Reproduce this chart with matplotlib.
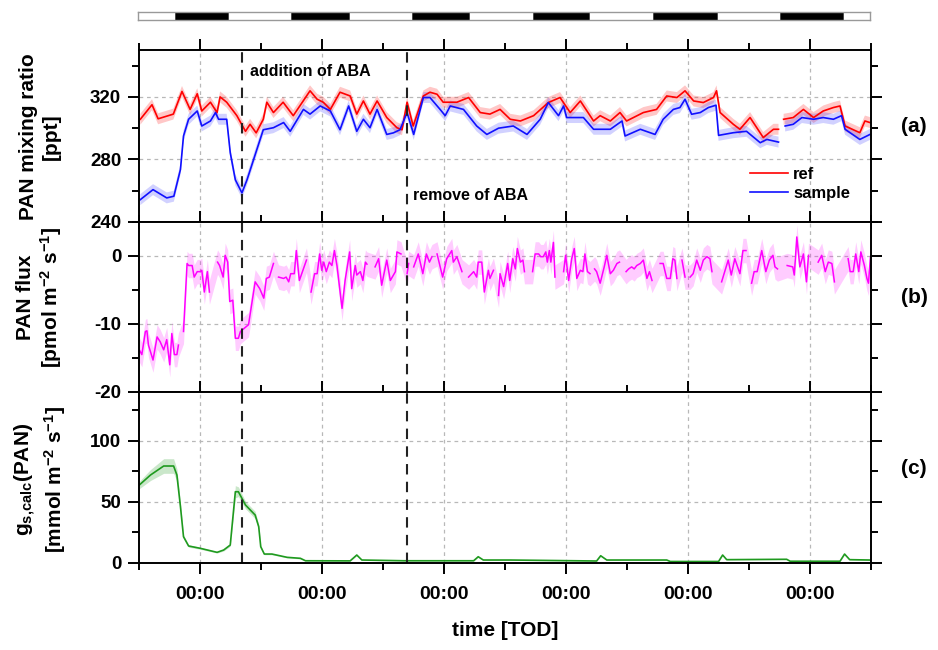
import numpy as np
import matplotlib
matplotlib.use("Agg")
import matplotlib.pyplot as plt
from matplotlib.ticker import MultipleLocator, FuncFormatter

plt.rcParams['font.family'] = ['Liberation Sans', 'DejaVu Sans']
plt.rcParams['font.weight'] = 'bold'
plt.rcParams['axes.unicode_minus'] = False
plt.rcParams['mathtext.default'] = 'regular'

nan = np.nan

# time in hours relative to the first midnight
# (a) PAN mixing ratio, ppt
ref_pts = [(-11.8, 305.7), (-9.5, 315), (-8.3, 306), (-5.3, 309), (-3.6, 323.5), (-2.0, 312),
           (-0.6, 322), (0.3, 311), (2.0, 316.6), (3.3, 310), (3.9, 320), (5.2, 316.6), (7.2, 308),
           (8.9, 298), (9.8, 302.5), (11.0, 297), (12.4, 305.7), (13.1, 316.6), (14.4, 310),
           (16.3, 316.6), (18.3, 308), (21.6, 323.9), (23.0, 318.5), (24.2, 316.6), (25.6, 312),
           (27.5, 323), (29.5, 320.6), (30.8, 309), (32.1, 317.4), (33.4, 309), (34.8, 317.4),
           (36.7, 306.8), (38.7, 300.3), (39.7, 299), (40.7, 316.6), (41.9, 301.4), (43.9, 320.6),
           (45.2, 323), (46.6, 321.7), (47.8, 316.6), (50.5, 316.6), (52.8, 319.6), (55.1, 310),
           (57.0, 309), (59.0, 312), (61.0, 305.7), (63.0, 304.6), (65.6, 308), (68.5, 316.4),
           (70.8, 319.6), (72.8, 310), (74.8, 317.4), (77.4, 304.6), (78.7, 308), (80.7, 304.6),
           (82.6, 310), (83.9, 304.6), (87.2, 310), (89.8, 312), (91.8, 320.6), (93.8, 319.6),
           (95.4, 323.9), (97.1, 317.4), (99.0, 316.4), (101.0, 319.6), (101.6, 323.9), (102.3, 310),
           (104.9, 302.5), (106.2, 299.3), (108.2, 306.8), (110.8, 294), (112.8, 299.3),
           (113.8, 299.3), (114.3, nan), (114.8, 305.7), (116.7, 306.8), (118.7, 312), (120.7, 306.8),
           (122.6, 311), (124.6, 313.2), (125.9, 314.2), (126.9, 301.4), (129.8, 297.1),
           (130.8, 304.6), (131.8, 303.6)]

sample_pts = [(-11.8, 254.3), (-9.3, 260.7), (-6.6, 255.4), (-5.2, 256.5), (-3.9, 273.6), (-3.3, 295),
              (-2.3, 305.7), (-0.6, 311), (0.3, 301.4), (2.0, 304.6), (3.0, 310), (3.6, 305.7),
              (5.2, 305.7), (5.9, 284.3), (6.9, 267), (8.2, 258.6), (9.2, 267), (10.5, 280),
              (12.4, 299), (14.4, 300.3), (16.4, 303.6), (17.7, 298), (20.3, 312), (21.6, 309),
              (23.6, 314.2), (25.6, 311), (27.5, 299), (29.2, 314.2), (30.8, 298), (32.1, 305.7),
              (33.4, 300.3), (34.8, 312), (36.7, 296), (38.0, 297), (39.3, 299), (40.7, 310),
              (42.0, 296), (43.9, 319.6), (45.2, 319.6), (47.2, 312), (48.2, 308), (49.2, 314.2),
              (51.8, 312), (54.4, 301.4), (56.4, 296), (58.7, 300.0), (61.6, 301.4), (64.3, 296),
              (66.9, 305.7), (68.5, 316.4), (70.5, 308), (71.5, 314.2), (72.1, 306.8), (75.4, 306.8),
              (77.4, 299.3), (80.7, 299.3), (83.0, 304.6), (83.6, 295), (86.6, 299.3), (89.5, 296),
              (91.1, 305.7), (93.1, 312), (94.4, 313.2), (95.4, 318.5), (96.7, 308.9), (98.4, 310),
              (100.0, 313.2), (101.5, 314.7), (102.0, 295.4), (104.9, 297.1), (107.5, 298),
              (110.2, 290.7), (111.5, 292.8), (113.8, 291.1), (114.4, nan), (115.1, 301.4),
              (116.7, 302.5), (118.4, 306.8), (120.7, 305.7), (122.6, 306.8), (124.6, 305.7),
              (126.2, 308), (126.9, 299.3), (129.8, 292.8), (131.8, 296)]
mix_err = 3.5

# (b) PAN flux, pmol m-2 s-1 (nan = gap)
flux_pts = [(-12.0, -13.8), (-11.5, -14.5), (-10.8, -11.1), (-10.5, -11.0), (-10.2, -13.1), (-9.3, -15.3),
            (-8.5, -11.9), (-7.9, -12.6), (-7.2, -13.8), (-6.6, -12.3), (-6.0, -16.0), (-5.6, -11.4),
            (-5.1, -14.5), (-4.6, -14.5), (-4.3, -13.1), (-3.8, nan),
            (-3.3, -11.1), (-2.6, -1.1), (-2.3, -1.4), (-1.6, -1.4), (-1.2, -3.1), (-0.6, -2.3),
            (0.0, -2.3), (0.3, -2.1), (0.8, -5.3), (1.4, -2.3), (1.8, -5.3), (2.6, nan),
            (3.4, -0.9), (3.8, -1.4), (4.5, -3.1), (4.9, 0.1), (5.4, -0.9), (5.8, -6.7), (6.4, -6.5),
            (6.9, -12.1), (7.5, -12.1), (7.9, -11.1), (9.5, -10.1), (10.8, -3.8), (11.7, -4.8),
            (12.5, -6.2), (13.0, -3.3), (13.6, -3.1), (14.4, -1.1), (14.9, nan),
            (15.4, -3.1), (16.4, -3.3), (16.9, -3.1), (17.4, -3.8), (17.8, -2.6), (18.5, -2.6),
            (18.9, 0.8), (19.5, -3.6), (20.9, -0.6), (21.4, nan),
            (21.8, -5.3), (22.5, -2.6), (23.0, -2.6), (23.5, 0.3), (23.9, -2.1), (24.3, -0.9),
            (24.8, -2.3), (25.4, -0.9), (25.9, -1.4), (26.4, 0.8), (26.9, -1.4), (27.9, -7.7),
            (28.5, -3.6), (29.4, 0.6), (29.8, -4.8), (30.5, -1.4), (30.8, -2.8), (31.5, -2.3),
            (32.0, -3.6), (32.5, -0.9), (32.8, -1.2), (33.6, nan),
            (34.4, -1.6), (35.1, -0.4), (35.7, -4.3), (36.7, -0.6), (37.4, -3.6), (38.4, -2.3),
            (38.7, 0.6), (39.5, 0.3), (40.1, nan), (40.7, -2.6), (41.0, -1.1), (41.5, nan),
            (42.0, -1.6), (42.9, 0.3), (43.8, -2.6), (44.5, 0.3), (45.1, -0.9), (45.6, -0.1), (46.1, nan),
            (46.6, 0.3), (47.7, -3.1), (48.5, -0.4), (49.5, 0.8), (49.8, -0.9), (50.5, -0.1),
            (51.5, -2.3), (52.2, nan),
            (52.8, -3.1), (53.8, -2.3), (54.4, -3.1), (54.7, -0.9), (55.4, -0.9), (55.9, -5.3),
            (56.7, -2.1), (57.0, -3.3), (57.7, -2.1), (58.2, nan),
            (58.7, -5.8), (59.0, -2.6), (59.7, -4.5), (60.5, -1.1), (60.9, -3.6), (61.5, -0.4),
            (62.0, -1.9), (62.4, 1.1), (63.0, -0.9), (63.5, -0.6), (63.8, -2.3), (64.6, nan),
            (65.4, -2.3), (65.9, 0.3), (66.6, 0.3), (67.0, -0.1), (67.5, -0.1), (68.0, 0.6),
            (68.3, -0.9), (68.7, 0.8), (69.0, -0.9), (69.5, 2.0), (69.8, -3.1), (70.6, nan),
            (71.5, -2.3), (71.9, 0.1), (72.5, -3.6), (73.1, -0.4), (73.6, 1.1), (74.1, -3.3),
            (74.8, -2.1), (75.3, -2.3), (75.7, 0.3), (76.2, -2.3), (76.7, -2.6), (77.1, nan),
            (77.6, -1.9), (78.0, -2.3), (78.7, -4.0), (79.5, -1.6), (80.0, 0.1), (80.7, -2.6),
            (81.3, -2.1), (82.0, -1.1), (82.5, -0.9), (83.1, nan),
            (83.8, -2.3), (84.3, -1.9), (84.9, -1.6), (85.4, -1.9), (85.9, -1.4), (86.6, -1.1),
            (87.2, -0.6), (87.9, -3.3), (88.4, -2.3), (88.9, -3.6), (89.7, nan),
            (90.5, -1.1), (91.1, -1.1), (91.8, -3.3), (92.5, -3.3), (93.0, -0.4), (93.4, -0.6),
            (93.8, -3.3), (94.3, nan), (94.8, -0.6), (95.4, -3.1), (95.9, nan),
            (96.4, -3.1), (97.0, -2.6), (97.7, -0.6), (98.4, -2.1), (99.0, -0.6), (99.7, -0.1),
            (100.3, -0.4), (100.7, -2.3), (101.6, nan),
            (102.6, -3.8), (103.3, -2.1), (103.9, -0.6), (104.5, -2.8), (105.2, -0.4), (106.2, -2.6),
            (106.8, 0.8), (107.4, 0.8), (108.0, nan),
            (108.5, -4.0), (109.0, -2.3), (109.6, -2.3), (110.5, 0.8), (111.3, -2.3), (112.0, -0.6),
            (112.7, 0.1), (113.1, -1.6), (113.6, -1.9), (114.5, nan),
            (115.5, -1.4), (116.6, -1.6), (116.9, -2.8), (117.4, 2.8), (118.0, -1.6), (118.7, 0.3),
            (119.3, -3.8), (119.7, 0.1), (120.6, nan),
            (121.6, -0.9), (122.3, 0.1), (123.0, -2.3), (123.6, -0.9), (124.3, -1.1), (124.8, -3.8),
            (126.0, nan),
            (127.5, -0.4), (127.9, -2.3), (128.5, -2.3), (129.0, 0.3), (129.6, -2.3), (130.0, 0.6),
            (130.7, -1.4), (131.2, -3.3), (131.5, -4.0), (131.9, -0.1)]
flux_err = 1.8

# (c) stomatal conductance, mmol m-2 s-1: (time, value, uncertainty)
gs_pts = [(-12.0, 63.7, 3), (-9.8, 71.9, 4.5), (-7.2, 79.3, 6), (-5.25, 79.3, 6), (-4.6, 71.9, 5),
          (-3.9, 45.9, 3), (-3.3, 21.3, 1.5), (-2.3, 13.7, 1), (0.0, 11.8, 0.8), (3.3, 8.5, 0.6),
          (4.6, 10.4, 0.8), (5.9, 14.5, 1), (6.9, 58.2, 5), (7.5, 58.2, 4), (8.9, 47.3, 3),
          (10.8, 39.1, 3), (11.5, 29.5, 2), (11.9, 13.1, 1), (12.6, 7.1, 0.6), (14.1, 7.1, 0.6),
          (17.1, 4.4, 0.5), (19.7, 3.6, 0.5), (20.7, 1.6, 0.3), (29.5, 1.5, 0.3), (30.8, 6.3, 0.5),
          (31.8, 2.2, 0.3), (40.0, 1.6, 0.3), (53.8, 1.6, 0.3), (54.7, 4.9, 0.4), (55.7, 2.2, 0.3),
          (61.0, 2.2, 0.3), (78.0, 1.4, 0.3), (78.8, 5.7, 0.4), (80.0, 2.2, 0.3), (91.8, 2.2, 0.3),
          (92.5, 1.0, 0.3), (102.0, 1.0, 0.3), (102.8, 6.3, 0.5), (103.6, 2.5, 0.3), (115.4, 2.8, 0.3),
          (116.1, 1.2, 0.3), (125.9, 1.2, 0.3), (126.8, 7.1, 0.5), (127.8, 2.5, 0.3), (131.8, 2.2, 0.3)]

# day/night bar (hours)
night_start = [-4.7, 18.1, 41.8, 65.6, 89.3, 114.2]
night_end = [5.6, 29.4, 53.1, 76.7, 101.8, 126.6]

aba_add = 8.3
aba_remove = 40.6

ref_t, ref_v = np.array(ref_pts).T
smp_t, smp_v = np.array(sample_pts).T
flux_t, flux_v = np.array(flux_pts).T
gs_t, gs_v, gs_e = np.array(gs_pts).T

fig = plt.figure(figsize=(9.38, 6.5), dpi=100)
L, W = 139.3 / 938, 731.7 / 938
H = 650.0
ax_a = fig.add_axes([L, 1 - 222 / H, W, 172 / H])
ax_b = fig.add_axes([L, 1 - 392 / H, W, 170 / H])
ax_c = fig.add_axes([L, 1 - 562.7 / H, W, 170.7 / H])
ax_bar = fig.add_axes([L - 1 / 938, 1 - 20 / H, W, 8 / H])


def style(ax):
    ax.set_xlim(-12, 132)
    ax.xaxis.set_major_locator(MultipleLocator(24))
    ax.xaxis.set_minor_locator(MultipleLocator(12))
    ax.tick_params(which='both', direction='out', top=True, right=True, width=1.4, pad=5)
    ax.tick_params(axis='y', labelsize=13.5)
    ax.tick_params(axis='x', labelsize=14)
    ax.tick_params(which='major', length=8)
    ax.tick_params(which='minor', length=5)
    for s in ax.spines.values():
        s.set_linewidth(1.4)
    ax.grid(True, which='major', ls=(0, (3, 3)), color='#b8b8b8', lw=0.9)
    ax.set_axisbelow(True)
    ax.axvline(aba_add, color='#222222', ls=(0, (5, 3.5)), lw=1.5)
    ax.axvline(aba_remove, color='#222222', ls=(0, (5, 3.5)), lw=1.5)


# panel (a)
ax_a.fill_between(ref_t, ref_v - mix_err, ref_v + mix_err, color='#ff0000', alpha=0.22, lw=0)
ax_a.fill_between(smp_t, smp_v - mix_err, smp_v + mix_err, color='#3030ff', alpha=0.22, lw=0)
ax_a.plot(ref_t, ref_v, color='#ff0000', lw=1.2, label='ref')
ax_a.plot(smp_t, smp_v, color='#1010ff', lw=1.2, label='sample')
ax_a.set_ylim(240, 350)
ax_a.yaxis.set_major_locator(MultipleLocator(40))
ax_a.yaxis.set_minor_locator(MultipleLocator(20))
style(ax_a)
ax_a.tick_params(labelbottom=False)
ax_a.legend(loc='upper left', bbox_to_anchor=(750 / 938, 1 - 167 / H),
            bbox_transform=fig.transFigure, frameon=False, fontsize=12,
            handlelength=2.3, handletextpad=0.3, labelspacing=0.25, borderpad=0,
            borderaxespad=0)

# panel (b)
ok = ~np.isnan(flux_v)
ax_b.fill_between(flux_t[ok], flux_v[ok] - flux_err, flux_v[ok] + flux_err,
                  color='#ff00ff', alpha=0.2, lw=0)
ax_b.plot(flux_t, flux_v, color='#ff00ff', lw=1.1)
ax_b.set_ylim(-20, 5)
ax_b.yaxis.set_major_locator(MultipleLocator(10))
ax_b.yaxis.set_minor_locator(MultipleLocator(5))
style(ax_b)
ax_b.tick_params(labelbottom=False)

# panel (c)
ax_c.fill_between(gs_t, gs_v - gs_e, gs_v + gs_e, color='#2ca02c', alpha=0.25, lw=0)
ax_c.plot(gs_t, gs_v, color='#1f9a1f', lw=1.2)
ax_c.set_ylim(0, 140)
ax_c.yaxis.set_major_locator(MultipleLocator(50))
ax_c.yaxis.set_minor_locator(MultipleLocator(25))
style(ax_c)
ax_c.xaxis.set_major_formatter(FuncFormatter(lambda x, p: '00:00'))
ax_c.tick_params(axis='x', pad=9)

# day/night bar
ax_bar.set_xlim(-12, 132)
ax_bar.set_ylim(0, 1)
ax_bar.broken_barh([(s, e - s) for s, e in zip(night_start, night_end)], (0, 1),
                   facecolors='black', edgecolor='#333333', lw=0.5)
ax_bar.set_xticks([])
ax_bar.set_yticks([])
for s in ax_bar.spines.values():
    s.set_color('#999999')
    s.set_linewidth(1.0)

# labels (figure pixel positions)
fig.text(250 / 938, 1 - 72 / H, 'addition of ABA', fontsize=11.5, fontweight='bold',
         va='center', ha='left')
fig.text(413 / 938, 1 - 196 / H, 'remove of ABA', fontsize=11.5, fontweight='bold',
         va='center', ha='left')
fig.text(40 / 938, 1 - 137 / H, 'PAN mixing ratio\n[ppt]', rotation=90, fontsize=15,
         ha='center', va='center', ma='center', fontweight='bold')
fig.text(40 / 938, 1 - 297 / H, 'PAN flux\n[pmol m$^{-2}$ s$^{-1}$]', rotation=90, fontsize=15,
         ha='center', va='center', ma='center', fontweight='bold')
fig.text(40 / 938, 1 - 479 / H, 'g$_{s{,}calc}$(PAN)\n[mmol m$^{-2}$ s$^{-1}$]', rotation=90,
         fontsize=15, ha='center', va='center', ma='center', fontweight='bold')
fig.text(914 / 938, 1 - 127 / H, '(a)', fontsize=15, ha='center', va='center', fontweight='bold')
fig.text(914 / 938, 1 - 297 / H, '(b)', fontsize=15, ha='center', va='center', fontweight='bold')
fig.text(914 / 938, 1 - 468 / H, '(c)', fontsize=15, ha='center', va='center', fontweight='bold')
fig.text(505 / 938, 1 - 631 / H, 'time [TOD]', fontsize=15, ha='center', va='center',
         fontweight='bold')

fig.savefig('out.png', dpi=100)
